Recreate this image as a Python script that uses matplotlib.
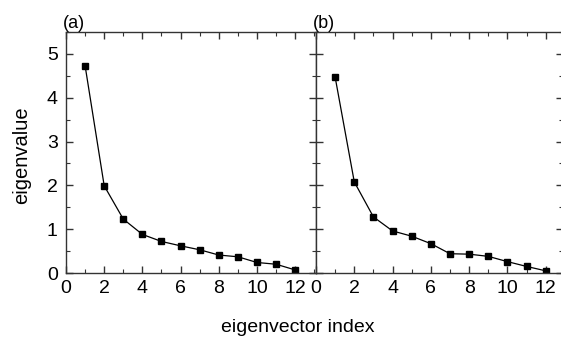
import matplotlib.pyplot as plt
from matplotlib.ticker import MultipleLocator

plt.rcParams["font.family"] = ["Liberation Sans", "DejaVu Sans"]

# eigenvalue spectra
index = list(range(1, 13))
eig_a = [4.73, 1.99, 1.23, 0.88, 0.72, 0.62, 0.53, 0.41, 0.37, 0.24, 0.20, 0.07]
eig_b = [4.47, 2.08, 1.28, 0.96, 0.84, 0.67, 0.44, 0.43, 0.38, 0.26, 0.15, 0.05]
panel_labels = ["(a)", "(b)"]

W, H = 561, 341
fig = plt.figure(figsize=(W / 100, H / 100), dpi=100)

# pixel boxes: left, top, right, bottom
boxes = [(66, 32, 316, 273), (316, 32, 562.5, 273)]
xmax = [13.09, 12.88]

for k, (data, lab) in enumerate(zip([eig_a, eig_b], panel_labels)):
    l, t, r, b = boxes[k]
    ax = fig.add_axes([l / W, 1 - b / H, (r - l) / W, (b - t) / H])
    ax.plot(index, data, color="black", lw=0.9, marker="s", ms=4.8,
            markerfacecolor="black", markeredgecolor="black")
    ax.set_xlim(0, xmax[k])
    ax.set_ylim(0, 5.5)
    ax.xaxis.set_major_locator(MultipleLocator(2))
    ax.xaxis.set_minor_locator(MultipleLocator(1))
    ax.yaxis.set_major_locator(MultipleLocator(1))
    ax.yaxis.set_minor_locator(MultipleLocator(0.5))
    ax.set_xticks(range(0, 13, 2))
    ax.tick_params(which="both", direction="in", top=True, right=True,
                   color="#333333", labelsize=14)
    ax.tick_params(axis="x", pad=5)
    ax.tick_params(axis="y", pad=6)
    ax.tick_params(which="major", length=5, width=1)
    ax.tick_params(which="minor", length=3, width=0.8)
    for sp in ax.spines.values():
        sp.set_color("#333333")
        sp.set_linewidth(1)
    if k == 1:
        ax.tick_params(axis="y", labelleft=False)
    ax.text(-0.012, 1.0, lab, transform=ax.transAxes, ha="left", va="bottom",
            fontsize=13)

fig.text(298 / W, 1 - 328 / H, "eigenvector index", ha="center", va="center",
         fontsize=14)
fig.text(22 / W, 1 - 155 / H, "eigenvalue", ha="center", va="center",
         rotation=90, fontsize=14.5)

fig.savefig("out.png", dpi=100)
